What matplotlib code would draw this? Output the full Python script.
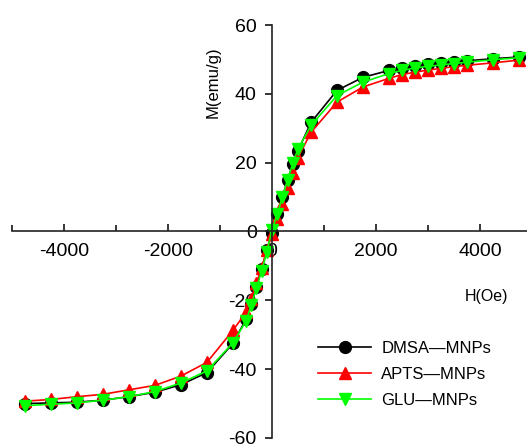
import matplotlib.pyplot as plt
from matplotlib.ticker import MultipleLocator

plt.rcParams['font.family'] = ['Liberation Sans', 'DejaVu Sans']
plt.rcParams['axes.unicode_minus'] = False

# data
H = [-4750, -4250, -3750, -3250, -2750, -2250, -1750, -1250, -750,
     -500, -400, -300, -200, -100, 0, 100, 200, 300, 400, 500,
     750, 1250, 1750, 2250, 2500, 2750, 3000, 3250, 3500, 3750, 4250, 4750]
dmsa = [-50.0, -49.8, -49.6, -49.0, -48.0, -46.7, -44.5, -41.0, -32.5,
        -25.5, -21.0, -16.0, -11.0, -5.5, -0.3, 5.0, 10.0, 15.0, 19.5, 23.5,
        31.7, 41.0, 44.8, 46.8, 47.6, 48.2, 48.6, 49.0, 49.3, 49.6, 50.2, 50.7]
apts = [-49.3, -48.8, -48.0, -47.3, -46.0, -44.7, -42.0, -38.0, -28.7,
        -23.5, -19.5, -15.0, -10.5, -5.5, -0.8, 3.5, 8.0, 12.5, 17.0, 21.5,
        28.8, 37.6, 42.0, 44.5, 45.6, 46.3, 46.9, 47.4, 47.9, 48.3, 49.0, 49.8]
glu = [-50.6, -50.2, -49.8, -49.0, -48.0, -46.5, -44.0, -40.5, -32.3,
       -26.0, -21.5, -16.5, -11.5, -6.0, 0.5, 5.0, 10.0, 15.0, 19.8, 24.0,
       30.8, 39.5, 43.4, 45.9, 46.8, 47.5, 48.0, 48.4, 48.8, 49.2, 49.9, 50.5]
labels = ["DMSA\u2014MNPs", "APTS\u2014MNPs", "GLU\u2014MNPs"]

fig = plt.figure(figsize=(5.27, 4.44), dpi=100)
ax = fig.add_axes([12/527, 6/444, 520/527, 413/444])

ax.plot(H, dmsa, color="black", marker="o", ms=8.5, lw=1.2, label=labels[0])
ax.plot(H, apts, color="#ff0000", marker="^", ms=9, lw=1.2, label=labels[1])
ax.plot(H, glu, color="#00ff00", marker="v", ms=9, lw=1.2, label=labels[2])

ax.set_xlim(-5000, 5000)
ax.set_ylim(-60, 60)
ax.set_axisbelow(True)

# axes crossing at the origin
ax.spines['left'].set_position(('data', 0))
ax.spines['bottom'].set_position(('data', 0))
ax.spines['top'].set_visible(False)
ax.spines['right'].set_visible(False)
for s in ['left', 'bottom']:
    ax.spines[s].set_linewidth(1.2)
    ax.spines[s].set_color('#222222')

ax.xaxis.set_major_locator(MultipleLocator(2000))
ax.xaxis.set_minor_locator(MultipleLocator(1000))
ax.yaxis.set_major_locator(MultipleLocator(20))
ax.tick_params(axis='x', which='major', direction='in', length=5, width=1.1, pad=8, labelsize=14)
ax.tick_params(axis='x', which='minor', direction='in', length=4, width=1.1)
ax.tick_params(axis='y', which='major', direction='out', length=5, width=1.1, pad=6, labelsize=14)

fig.text(213/527, 1 - 82/444, "M(emu/g)", rotation=90, ha='center', va='center', fontsize=12)
fig.text(487/527, 1 - 296/444, "H(Oe)", ha='center', va='center', fontsize=11.5)

ax.legend(loc='upper left', bbox_to_anchor=(318/527, 1 - 341/444), bbox_transform=fig.transFigure,
          frameon=False, fontsize=12, handlelength=3.2, handletextpad=0.6, labelspacing=0.65,
          borderpad=0, borderaxespad=0)

fig.savefig("out.png", dpi=100)
